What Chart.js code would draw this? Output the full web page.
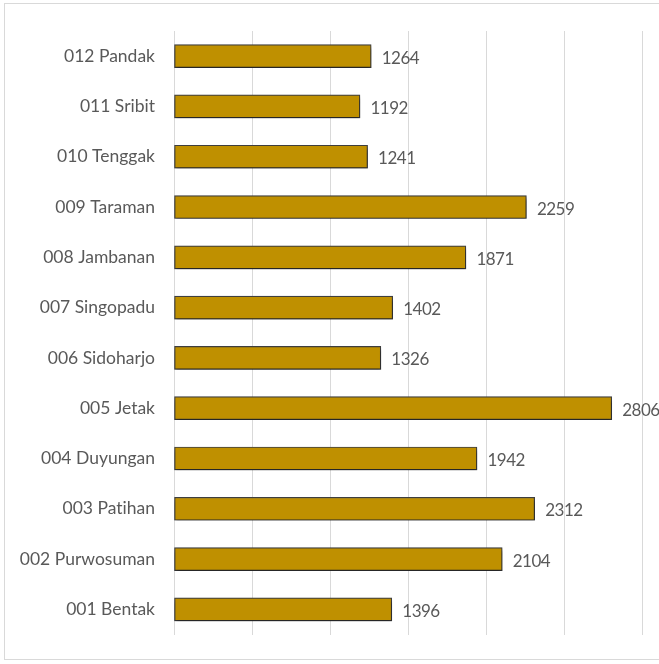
<!DOCTYPE html>
<html>
<head>
<meta charset="utf-8">
<script src="https://cdn.jsdelivr.net/npm/chart.js@4/dist/chart.umd.min.js"></script>
<style>
  html, body { margin: 0; padding: 0; background: #fff; }
  #frame { position: absolute; left: 4px; top: 3px; width: 656px; height: 657px; border: 1.5px solid #d9d9d9; box-sizing: border-box; }
  #wrap { position: absolute; left: 0; top: 0; width: 659px; height: 664px; }
</style>
</head>
<body>
<div id="frame"></div>
<div id="wrap"><canvas id="c" width="659" height="664"></canvas></div>
<script>
const categories = ["001 Bentak", "002 Purwosuman", "003 Patihan", "004 Duyungan", "005 Jetak", "006 Sidoharjo", "007 Singopadu", "008 Jambanan", "009 Taraman", "010 Tenggak", "011 Sribit", "012 Pandak"];
const values = [1396, 2104, 2312, 1942, 2806, 1326, 1402, 1871, 2259, 1241, 1192, 1264];
const axisMin = 0, axisMax = 3000, axisStep = 500;

const FONT = "Lato, 'Open Sans', sans-serif";

const textPlugin = {
  id: 'noLigatures',
  beforeDraw(chart) {
    try { chart.ctx.textRendering = 'optimizeSpeed'; } catch (e) {}
  }
};

const shadowPlugin = {
  id: 'barShadow',
  beforeDatasetDraw(chart) {
    const ctx = chart.ctx;
    ctx.save();
    ctx.shadowColor = 'rgba(0,0,0,0.45)';
    ctx.shadowBlur = 4;
    ctx.shadowOffsetX = 1;
    ctx.shadowOffsetY = 3;
  },
  afterDatasetDraw(chart) {
    chart.ctx.restore();
  }
};

const labelPlugin = {
  id: 'valueLabels',
  afterDatasetsDraw(chart) {
    const ctx = chart.ctx;
    const meta = chart.getDatasetMeta(0);
    ctx.save();
    ctx.fillStyle = '#595959';
    ctx.font = "17px " + FONT;
    try { ctx.letterSpacing = '-0.5px'; } catch (e) {}
    ctx.textAlign = 'left';
    ctx.textBaseline = 'middle';
    meta.data.forEach((bar, i) => {
      ctx.fillText(String(chart.data.datasets[0].data[i]), bar.x + 10.5, bar.y + 2);
    });
    ctx.restore();
  }
};

new Chart(document.getElementById('c'), {
  type: 'bar',
  data: {
    labels: categories,
    datasets: [{
      data: values,
      backgroundColor: '#BF9000',
      borderColor: '#404040',
      borderWidth: 1.2,
      barThickness: 23,
      borderSkipped: false
    }]
  },
  options: {
    indexAxis: 'y',
    responsive: false,
    animation: false,
    devicePixelRatio: 1,
    layout: { padding: { top: 31, bottom: 25, right: 17, left: 0 } },
    plugins: { legend: { display: false }, tooltip: { enabled: false } },
    scales: {
      x: {
        min: axisMin, max: axisMax,
        ticks: { display: false, stepSize: axisStep },
        grid: { color: '#d9d9d9', lineWidth: 1, drawTicks: false },
        border: { display: false },
        afterFit(scale) { scale.height = 0; }
      },
      y: {
        reverse: true,
        grid: { display: false, drawTicks: false },
        border: { display: false },
        ticks: { color: '#595959', font: { family: FONT, size: 17.5 }, padding: 19 },
        afterFit(scale) { scale.width = 174; }
      }
    }
  },
  plugins: [textPlugin, shadowPlugin, labelPlugin]
});
</script>
</body>
</html>
